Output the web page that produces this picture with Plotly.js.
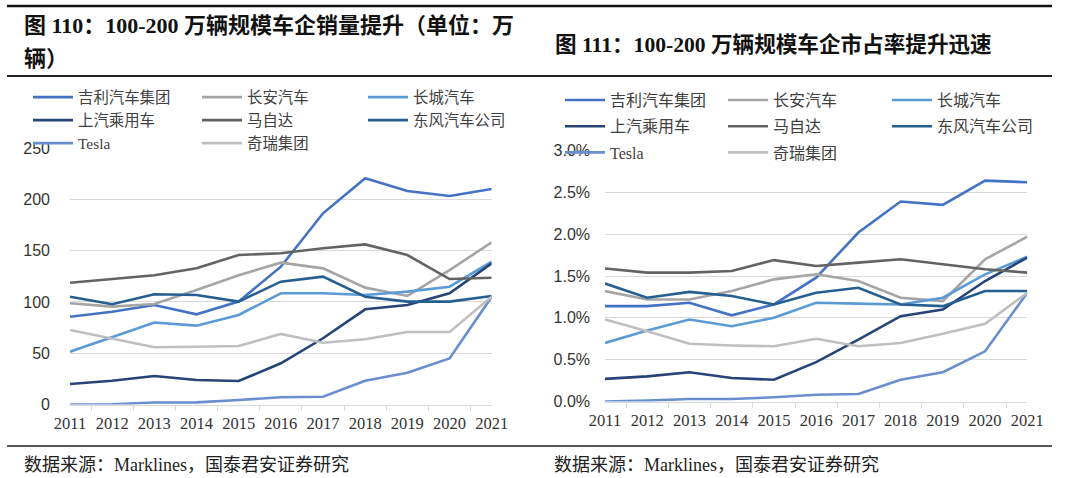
<!DOCTYPE html>
<html>
<head>
<meta charset="utf-8">
<script src="https://cdn.plot.ly/plotly-3.0.1.min.js"></script>
<style>html,body{margin:0;padding:0;background:#fff}#chart{width:1080px;height:478px}</style>
</head>
<body>
<div id="chart"></div>
<script>
// ---- data ----
const years = ['2011','2012','2013','2014','2015','2016','2017','2018','2019','2020','2021'];
const seriesNames = ['吉利汽车集团','长安汽车','长城汽车','上汽乘用车','马自达','东风汽车公司','Tesla','奇瑞集团'];

// sales, 万辆
const geelySales     = [85.6, 90.5, 97.0, 87.9, 100.3, 134.3, 186.3, 220.4, 208.0, 203.2, 210.0];
const changanSales   = [98.7, 95.4, 98.0, 111.6, 126.0, 138.2, 132.7, 113.9, 105.8, 131.0, 158.0];
const greatwallSales = [51.5, 66.0, 80.0, 76.9, 87.3, 108.4, 108.4, 106.7, 110.0, 114.8, 139.2];
const saicSales      = [20.0, 23.3, 27.9, 24.0, 23.0, 40.2, 64.6, 92.8, 97.0, 108.4, 137.6];
const mazdaSales     = [118.7, 122.0, 126.0, 132.7, 145.7, 147.4, 152.2, 156.0, 145.7, 122.3, 123.6];
const dongfengSales  = [105.0, 97.7, 107.4, 106.7, 100.3, 119.7, 124.6, 105.1, 100.3, 100.3, 105.8];
const teslaSales     = [0.0, 0.2, 2.0, 2.2, 4.5, 7.1, 7.7, 23.3, 31.0, 45.0, 105.0];
const cherySales     = [72.7, 64.6, 55.8, 56.4, 57.0, 68.8, 60.3, 63.6, 70.7, 70.7, 105.1];

// market share, %
const geelyShare     = [1.14, 1.14, 1.18, 1.03, 1.16, 1.48, 2.02, 2.39, 2.35, 2.64, 2.62];
const changanShare   = [1.32, 1.22, 1.22, 1.32, 1.46, 1.52, 1.44, 1.24, 1.20, 1.70, 1.97];
const greatwallShare = [0.70, 0.85, 0.98, 0.90, 1.00, 1.18, 1.17, 1.16, 1.24, 1.52, 1.73];
const saicShare      = [0.27, 0.30, 0.35, 0.28, 0.26, 0.47, 0.74, 1.02, 1.10, 1.44, 1.72];
const mazdaShare     = [1.59, 1.54, 1.54, 1.56, 1.69, 1.62, 1.66, 1.70, 1.64, 1.58, 1.54];
const dongfengShare  = [1.41, 1.24, 1.31, 1.26, 1.16, 1.30, 1.36, 1.16, 1.14, 1.32, 1.32];
const teslaShare     = [0.00, 0.01, 0.03, 0.03, 0.05, 0.08, 0.09, 0.26, 0.35, 0.60, 1.30];
const cheryShare     = [0.98, 0.84, 0.69, 0.67, 0.66, 0.75, 0.66, 0.70, 0.81, 0.93, 1.30];

const leftYTicks  = [0, 50, 100, 150, 200, 250];
const rightYTicks = [0, 0.5, 1.0, 1.5, 2.0, 2.5, 3.0];

const salesData = [geelySales, changanSales, greatwallSales, saicSales, mazdaSales, dongfengSales, teslaSales, cherySales];
const shareData = [geelyShare, changanShare, greatwallShare, saicShare, mazdaShare, dongfengShare, teslaShare, cheryShare];

// ---- style ----
const colors = ['#4472C4','#A5A5A5','#5B9BD5','#264478','#636363','#255E91','#698ED0','#BFBFBF'];
const legendCol = [0,1,2,0,1,2,0,1];
const W = 1080, H = 478;
const px = x => x / W, py = y => 1 - y / H;
const serifCJK = '"Liberation Serif", "Noto Sans CJK SC", serif';

const traces = [];
salesData.forEach((d, i) => {
  traces.push({
    x: years, y: d, xaxis: 'x', yaxis: 'y', type: 'scatter', mode: 'lines',
    name: seriesNames[i], line: {color: colors[i], width: 2.6},
    legend: ['legend','legend2','legend3'][legendCol[i]],
    legendgroup: 'L' + i, hovertemplate: '%{x}: %{y}<extra>' + seriesNames[i] + '</extra>'
  });
});
shareData.forEach((d, i) => {
  traces.push({
    x: years, y: d, xaxis: 'x2', yaxis: 'y2', type: 'scatter', mode: 'lines',
    name: seriesNames[i], line: {color: colors[i], width: 2.6},
    legend: ['legend4','legend5','legend6'][legendCol[i]],
    legendgroup: 'R' + i, hovertemplate: '%{x}: %{y:.2f}%<extra>' + seriesNames[i] + '</extra>'
  });
});

function legendAt(xLine, yTop, gap, size) {
  return {
    x: px(xLine - 5), y: py(yTop), xanchor: 'left', yanchor: 'top',
    orientation: 'v', bgcolor: 'rgba(0,0,0,0)', borderwidth: 0,
    itemwidth: 40, tracegroupgap: gap, traceorder: 'grouped',
    font: {family: serifCJK, size: size, color: '#404040'}
  };
}

const xTickFont = {family: '"Liberation Serif", serif', size: 16.5, color: '#333333'};
const yTickFont = {family: '"Liberation Sans", Arial, sans-serif', size: 16, color: '#333333'};

function xAxis(domain, anchor) {
  return {
    domain: domain, anchor: anchor, type: 'category', tickangle: 0,
    showline: true, linecolor: '#d9d9d9', linewidth: 1,
    ticks: 'outside', tickson: 'boundaries', ticklen: 5, tickcolor: '#d9d9d9',
    showgrid: false, zeroline: false, tickfont: xTickFont, ticklabelstandoff: 4,
    fixedrange: true
  };
}

const layout = {
  width: W, height: H,
  margin: {l: 0, r: 0, t: 0, b: 0},
  paper_bgcolor: '#ffffff', plot_bgcolor: '#ffffff',
  showlegend: true,
  xaxis: xAxis([px(70), px(491.7)], 'y'),
  yaxis: {
    domain: [py(404.6), py(147.9)], anchor: 'x', range: [0, 250],
    tickvals: leftYTicks, ticktext: leftYTicks.map(String),
    gridcolor: '#d9d9d9', gridwidth: 1, zeroline: false, showline: false,
    ticks: '', tickfont: yTickFont, ticklabelstandoff: 19, fixedrange: true
  },
  xaxis2: xAxis([px(605), px(1027.3)], 'y2'),
  yaxis2: {
    domain: [py(401.5), py(150.5)], anchor: 'x2', range: [0, 3.0],
    tickvals: rightYTicks, ticktext: rightYTicks.map(v => v.toFixed(1) + '%'),
    gridcolor: '#d9d9d9', gridwidth: 1, zeroline: false, showline: false,
    ticks: '', tickfont: yTickFont, ticklabelstandoff: 14, fixedrange: true
  },
  legend:  legendAt(33, 80.6, 0, 15.4),
  legend2: legendAt(202, 80.6, 0, 15.4),
  legend3: legendAt(368, 80.6, 0, 15.4),
  legend4: legendAt(565, 83.1, 2.4, 16),
  legend5: legendAt(728, 83.1, 2.4, 16),
  legend6: legendAt(892, 83.1, 2.4, 16),
  shapes: [
    {type: 'line', xref: 'paper', yref: 'paper', x0: px(7), x1: px(1052), y0: py(6), y1: py(6), line: {color: '#111', width: 2.5}},
    {type: 'line', xref: 'paper', yref: 'paper', x0: px(7), x1: px(1052), y0: py(76), y1: py(76), line: {color: '#222', width: 2}},
    {type: 'line', xref: 'paper', yref: 'paper', x0: px(7), x1: px(1052), y0: py(446), y1: py(446), line: {color: '#222', width: 1.5}}
  ],
  annotations: [
    {xref: 'paper', yref: 'paper', x: px(22), y: py(26), xanchor: 'left', yanchor: 'middle', showarrow: false,
     text: '<b>图 110：100-200 万辆规模车企销量提升（单位：万</b>', font: {family: serifCJK, size: 22, color: '#111'}},
    {xref: 'paper', yref: 'paper', x: px(22), y: py(58), xanchor: 'left', yanchor: 'middle', showarrow: false,
     text: '<b>辆）</b>', font: {family: serifCJK, size: 22, color: '#111'}},
    {xref: 'paper', yref: 'paper', x: px(553), y: py(44), xanchor: 'left', yanchor: 'middle', showarrow: false,
     text: '<b>图 111：100-200 万辆规模车企市占率提升迅速</b>', font: {family: serifCJK, size: 21.6, color: '#111'}},
    {xref: 'paper', yref: 'paper', x: px(22), y: py(465), xanchor: 'left', yanchor: 'middle', showarrow: false,
     text: '数据来源：Marklines，国泰君安证券研究', font: {family: serifCJK, size: 18, color: '#222'}},
    {xref: 'paper', yref: 'paper', x: px(552), y: py(465), xanchor: 'left', yanchor: 'middle', showarrow: false,
     text: '数据来源：Marklines，国泰君安证券研究', font: {family: serifCJK, size: 18, color: '#222'}}
  ]
};

Plotly.newPlot('chart', traces, layout, {displayModeBar: false});
</script>
</body>
</html>
